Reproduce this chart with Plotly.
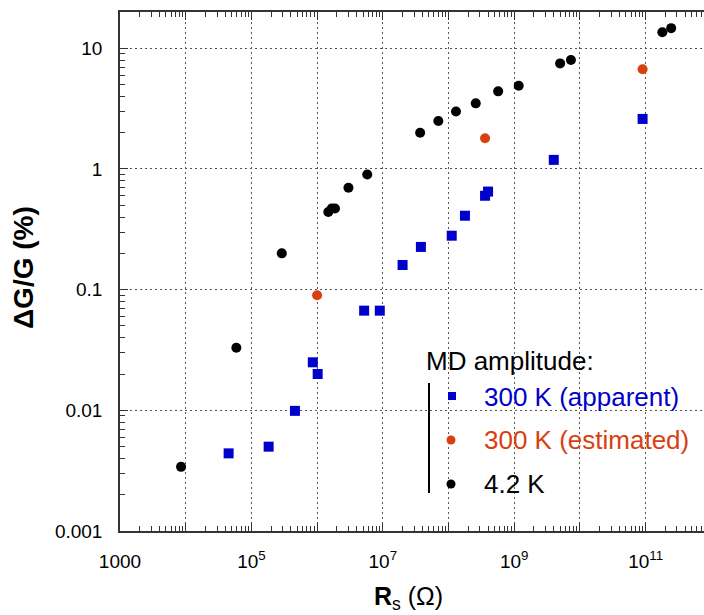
import plotly.graph_objects as go

# ---------------- data ----------------
# 4.2 K
k42_rs = [8.5e3, 5.9e4, 2.9e5, 1.48e6, 1.67e6, 1.87e6, 3.0e6, 5.8e6, 3.7e7, 7.0e7,
          1.3e8, 2.6e8, 5.7e8, 1.17e9, 5.0e9, 7.3e9, 1.8e11, 2.45e11]
k42_dg = [0.0034, 0.033, 0.20, 0.44, 0.47, 0.47, 0.70, 0.90, 2.0, 2.5,
          3.0, 3.5, 4.4, 4.9, 7.5, 8.0, 13.6, 14.7]
# 300 K (estimated)
est_rs = [1.0e6, 3.6e8, 9.0e10]
est_dg = [0.09, 1.8, 6.7]
# 300 K (apparent)
app_rs = [4.5e4, 1.83e5, 4.6e5, 8.6e5, 1.02e6, 5.2e6, 9.0e6, 2.0e7, 3.8e7, 1.12e8,
          1.78e8, 3.6e8, 4.0e8, 4.0e9, 9.0e10]
app_dg = [0.0044, 0.0050, 0.0099, 0.025, 0.020, 0.067, 0.067, 0.16, 0.226, 0.28,
          0.41, 0.60, 0.65, 1.19, 2.6]

x_tickvals = [1e3, 1e4, 1e5, 1e6, 1e7, 1e8, 1e9, 1e10, 1e11]
x_ticktext = ["1000", " ", "10<sup>5</sup>", " ", "10<sup>7</sup>", " ", "10<sup>9</sup>", " ", "10<sup>11</sup>"]
y_tickvals = [0.001, 0.01, 0.1, 1, 10]
y_ticktext = ["0.001", "0.01", "0.1", "1", "10"]

BLUE = "#0000cc"
RED = "#d9400f"
BLACK = "#000000"
FONT = "Liberation Sans, Arial, sans-serif"

W, H = 704, 615
L, R, T, B = 120, 0, 12, 84

fig = go.Figure()
fig.add_trace(go.Scatter(x=k42_rs, y=k42_dg, mode="markers", name="4.2 K",
                         marker=dict(symbol="circle", size=10, color=BLACK)))
fig.add_trace(go.Scatter(x=est_rs, y=est_dg, mode="markers", name="300 K (estimated)",
                         marker=dict(symbol="circle", size=10, color=RED)))
fig.add_trace(go.Scatter(x=app_rs, y=app_dg, mode="markers", name="300 K (apparent)",
                         marker=dict(symbol="square", size=10, color=BLUE)))

x_minor = [m * 10 ** e for e in range(3, 12) for m in range(2, 10)]
y_minor = [m * 10 ** e for e in range(-3, 2) for m in range(2, 10)]

axis_common = dict(
    type="log", showline=True, linecolor="#333333", linewidth=1.5,
    ticks="inside", ticklen=8, tickwidth=1.2, tickcolor="#333333",
    showgrid=True, gridcolor="#555555", gridwidth=1.2, griddash="2px,3px",
    zeroline=False, tickfont=dict(family=FONT, size=19, color="#000000"),
)

fig.update_xaxes(
    **axis_common, range=[3, 3 + 584 / 65.7], mirror="ticks",
    tickmode="array", tickvals=x_tickvals, ticktext=x_ticktext,
    minor=dict(tickmode="array", tickvals=x_minor, ticks="inside", ticklen=5,
               tickwidth=1, tickcolor="#333333", showgrid=False),
    ticklabelstandoff=12,
)
fig.update_yaxes(
    **axis_common, range=[-3, 1.30103], mirror=False,
    tickmode="array", tickvals=y_tickvals, ticktext=y_ticktext,
    minor=dict(tickmode="array", tickvals=y_minor, ticks="inside", ticklen=5,
               tickwidth=1, tickcolor="#333333", showgrid=False),
    ticklabelstandoff=12,
)


def px(x):
    return (x - L) / (W - L - R)


def py(y):
    return (H - B - y) / (H - T - B)


shapes = [
    dict(type="line", xref="paper", yref="paper", x0=px(429), x1=px(429),
         y0=py(383), y1=py(493), line=dict(color="#000000", width=2)),
    dict(type="rect", xref="paper", yref="paper", x0=px(448), x1=px(456),
         y0=py(400), y1=py(392), fillcolor=BLUE, line=dict(width=0)),
    dict(type="circle", xref="paper", yref="paper", x0=px(446.5), x1=px(455.5),
         y0=py(444.5), y1=py(435.5), fillcolor=RED, line=dict(width=0)),
    dict(type="circle", xref="paper", yref="paper", x0=px(446.5), x1=px(455.5),
         y0=py(488.5), y1=py(479.5), fillcolor=BLACK, line=dict(width=0)),
]

ann_font = dict(family=FONT, size=26)
annotations = [
    dict(text="MD amplitude:", x=px(424), y=py(361), xanchor="left", yanchor="middle",
         font=dict(**ann_font, color="#000000")),
    dict(text="300 K (apparent)", x=px(482), y=py(397), xanchor="left", yanchor="middle",
         font=dict(**ann_font, color=BLUE)),
    dict(text="300 K (estimated)", x=px(482), y=py(440), xanchor="left", yanchor="middle",
         font=dict(**ann_font, color=RED)),
    dict(text="4.2 K", x=px(482), y=py(484), xanchor="left", yanchor="middle",
         font=dict(**ann_font, color="#000000")),
    dict(text="<b>ΔG/G (%)</b>", x=px(23), y=py(268), xanchor="center", yanchor="middle",
         textangle=-90, font=dict(family=FONT, size=28, color="#000000")),
    dict(text="<b>R</b><sub>s</sub> (Ω)", x=px(408), y=py(598), xanchor="center",
         yanchor="middle", font=dict(family=FONT, size=25, color="#000000")),
]
for a in annotations:
    a.update(xref="paper", yref="paper", showarrow=False)

fig.update_layout(
    width=W, height=H, margin=dict(l=L, r=R, t=T, b=B, autoexpand=False),
    paper_bgcolor="#ffffff", plot_bgcolor="#ffffff",
    showlegend=False, shapes=shapes, annotations=annotations,
    font=dict(family=FONT),
)

fig.write_html("out.html")
